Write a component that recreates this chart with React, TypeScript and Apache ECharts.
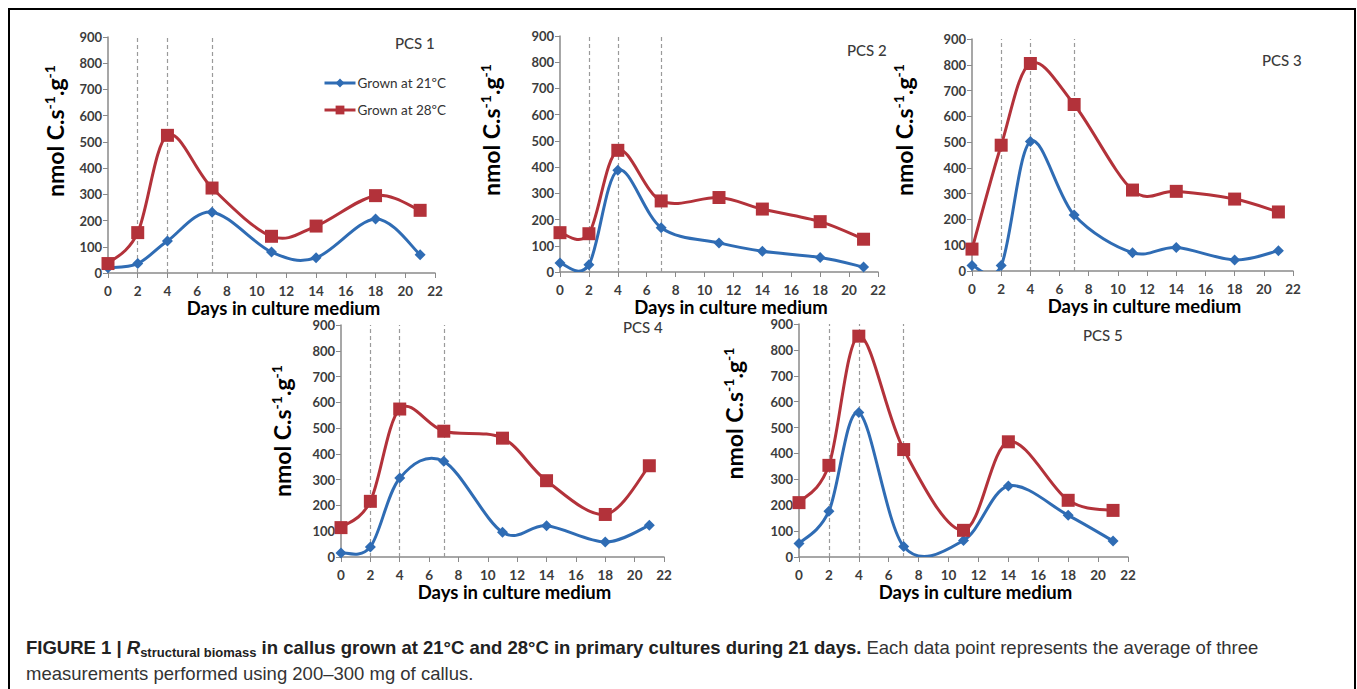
import React, { useEffect, useRef } from "react";
import * as echarts from "echarts";

const days = [0, 2, 4, 7, 11, 14, 18, 21];
const seriesNames = ["Grown at 21ºC", "Grown at 28ºC"];
const panelTitles = ["PCS 1", "PCS 2", "PCS 3", "PCS 4", "PCS 5"];
const markerDays = [2, 4, 7];
const xTicks = { min: 0, max: 22, interval: 2 };
const yTicks = { min: 0, max: 900, interval: 100 };

const pcs1_21 = [20, 36, 122, 232, 80, 58, 206, 70];
const pcs1_28 = [36, 154, 525, 324, 140, 179, 295, 239];
const pcs2_21 = [34, 28, 388, 169, 111, 79, 55, 19];
const pcs2_28 = [150, 146, 464, 271, 284, 240, 192, 125];
const pcs3_21 = [21, 21, 502, 217, 71, 91, 43, 79];
const pcs3_28 = [85, 488, 805, 646, 314, 309, 279, 229];
const pcs4_21 = [16, 39, 306, 371, 96, 121, 58, 123];
const pcs4_28 = [114, 216, 574, 488, 461, 296, 165, 354];
const pcs5_21 = [52, 177, 558, 41, 64, 274, 161, 62];
const pcs5_28 = [210, 354, 853, 415, 103, 445, 219, 180];

const panelData = [
  [pcs1_21, pcs1_28],
  [pcs2_21, pcs2_28],
  [pcs3_21, pcs3_28],
  [pcs4_21, pcs4_28],
  [pcs5_21, pcs5_28],
];

// layout (pixels)
const layout = [
  { left: 108, top: 37, width: 327, height: 236, yGap: 40, yShift: 48, tx: 395, ty: 35 },
  { left: 560, top: 36, width: 318, height: 236, yGap: 56, yShift: 48, tx: 847, ty: 42 },
  { left: 972, top: 39, width: 321, height: 232, yGap: 55, yShift: 50, tx: 1262, ty: 52 },
  { left: 341, top: 325, width: 323, height: 232, yGap: 46, yShift: 20, tx: 623, ty: 319 },
  { left: 799, top: 324, width: 329, height: 233, yGap: 52, yShift: 54, tx: 1083, ty: 327 },
];

const COLORS = ["#2f6cb4", "#b3323a"];
const FONT = "Lato, 'Open Sans', sans-serif";
const CAP_FONT = "'Liberation Sans Narrow', 'Liberation Sans', Arial, sans-serif";

// Excel-like (Catmull-Rom) smoothed segment between point k and k+1
function makeCurveRenderer(xs: number[], ys: number[], color: string) {
  const n = xs.length;
  return (params: any, api: any) => {
    const k = params.dataIndex;
    if (k >= n - 1) return null;
    const c = (j: number) => {
      const jj = Math.max(0, Math.min(n - 1, j));
      return api.coord([xs[jj], ys[jj]]);
    };
    const p0 = c(k - 1);
    const p1 = c(k);
    const p2 = c(k + 1);
    const p3 = c(k + 2);
    return {
      type: "bezierCurve",
      shape: {
        x1: p1[0],
        y1: p1[1],
        x2: p2[0],
        y2: p2[1],
        cpx1: p1[0] + (p2[0] - p0[0]) / 6,
        cpy1: p1[1] + (p2[1] - p0[1]) / 6,
        cpx2: p2[0] - (p3[0] - p1[0]) / 6,
        cpy2: p2[1] - (p3[1] - p1[1]) / 6,
      },
      style: { stroke: color, lineWidth: 3, fill: "none" },
      silent: true,
    };
  };
}

export default function App() {
  const ref = useRef<HTMLDivElement>(null);

  useEffect(() => {
    if (!ref.current) return;
    const chart = echarts.init(ref.current, undefined, { renderer: "svg" });

    const grids: any[] = [];
    const xAxes: any[] = [];
    const yAxes: any[] = [];
    const series: any[] = [];
    const graphics: any[] = [];

    layout.forEach((l, i) => {
      grids.push({ left: l.left, top: l.top, width: l.width, height: l.height });
      xAxes.push({
        gridIndex: i,
        type: "value",
        min: xTicks.min,
        max: xTicks.max,
        interval: xTicks.interval,
        name: "Days in culture medium",
        nameLocation: "middle",
        nameGap: 23,
        nameTextStyle: {
          fontFamily: FONT,
          fontWeight: "bold",
          fontSize: 18.5,
          color: "#000",
          lineHeight: 18,
          padding: [0, 0, 0, 24],
        },
        axisLine: { lineStyle: { color: "#8a8a8a", width: 1.5 } },
        axisTick: { show: true, length: 5, lineStyle: { color: "#8a8a8a" } },
        axisLabel: {
          fontFamily: FONT,
          fontWeight: "bold",
          fontSize: 13.5,
          color: "#3c3c3c",
          margin: 11,
        },
        splitLine: { show: false },
      });
      yAxes.push({
        gridIndex: i,
        type: "value",
        min: yTicks.min,
        max: yTicks.max,
        interval: yTicks.interval,
        name: "{m|nmol C.s}{s|-1}{m|.g}{s|-1}",
        nameLocation: "middle",
        nameRotate: 90,
        nameGap: l.yGap,
        nameTextStyle: {
          padding: [0, 0, 0, l.yShift],
          rich: {
            m: { fontFamily: FONT, fontWeight: "bold", fontSize: 23, color: "#000", lineHeight: 26 },
            s: { fontFamily: FONT, fontWeight: "bold", fontSize: 14, color: "#000", verticalAlign: "top", lineHeight: 15 },
          },
        },
        axisLine: { show: true, lineStyle: { color: "#8a8a8a", width: 1.5 } },
        axisTick: { show: true, length: 5, lineStyle: { color: "#8a8a8a" } },
        axisLabel: {
          fontFamily: FONT,
          fontWeight: "bold",
          fontSize: 13,
          color: "#3c3c3c",
          margin: 6,
        },
        splitLine: { show: false },
      });

      panelData[i].forEach((vals, s) => {
        const color = COLORS[s];
        const pts = days.map((d, k) => [d, vals[k]]);
        series.push({
          type: "custom",
          name: seriesNames[s] + " curve",
          xAxisIndex: i,
          yAxisIndex: i,
          data: pts,
          encode: { x: 0, y: 1 },
          renderItem: makeCurveRenderer(days, vals, color),
          clip: true,
          silent: true,
          z: 2 + s,
        });
        series.push({
          name: seriesNames[s],
          type: "line",
          xAxisIndex: i,
          yAxisIndex: i,
          data: pts,
          symbol: s === 0 ? "diamond" : "rect",
          symbolSize: s === 0 ? 11 : 13,
          showAllSymbol: true,
          lineStyle: { color, width: 0, opacity: 0 },
          itemStyle: { color },
          z: 5 + s,
          markLine:
            s === 0
              ? {
                  silent: true,
                  symbol: "none",
                  label: { show: false },
                  lineStyle: { color: "#9a9a9a", type: [4, 3], width: 1.2 },
                  data: markerDays.map((d) => ({ xAxis: d })),
                }
              : undefined,
        });
      });

      graphics.push({
        type: "text",
        left: l.tx,
        top: l.ty,
        style: {
          text: panelTitles[i],
          fontFamily: FONT,
          fontSize: 15,
          fontWeight: 500,
          fill: "#3a3a3a",
        },
      });
    });

    graphics.push({
      type: "rect",
      shape: { x: 9, y: 9, width: 1346, height: 720 },
      style: { fill: "none", stroke: "#000", lineWidth: 2 },
      silent: true,
    });
    graphics.push({
      type: "text",
      left: 26,
      top: 638,
      style: {
        text:
          "{b|FIGURE 1 | }{bi|R}{sub|structural biomass}{b| in callus grown at 21°C and 28°C in primary cultures during 21 days.}{n| Each data point represents the average of three}",
        rich: {
          b: { fontFamily: CAP_FONT, fontWeight: "bold", fontSize: 18.5, fill: "#222", lineHeight: 23 },
          bi: { fontFamily: CAP_FONT, fontWeight: "bold", fontStyle: "italic", fontSize: 18.5, fill: "#222", lineHeight: 23 },
          sub: { fontFamily: CAP_FONT, fontWeight: "bold", fontSize: 13, fill: "#222", lineHeight: 12, verticalAlign: "bottom" },
          n: { fontFamily: CAP_FONT, fontSize: 18.5, fill: "#333", lineHeight: 23 },
        },
      },
    });
    graphics.push({
      type: "text",
      left: 26,
      top: 664,
      style: {
        text: "measurements performed using 200–300 mg of callus.",
        fontFamily: CAP_FONT,
        fontSize: 18.5,
        fill: "#333",
      },
    });

    chart.setOption({
      animation: false,
      backgroundColor: "#fff",
      grid: grids,
      xAxis: xAxes,
      yAxis: yAxes,
      series,
      legend: {
        left: 318,
        top: 71,
        orient: "vertical",
        itemWidth: 31,
        itemHeight: 11,
        itemGap: 13,
        data: seriesNames.map((name, s) => ({
          name,
          lineStyle: { color: COLORS[s], width: 3, opacity: 1 },
        })),
        textStyle: { fontFamily: FONT, fontSize: 13.5, color: "#333", padding: [0, 0, 0, -3] },
        selectedMode: false,
      },
      graphic: graphics,
    });

    return () => chart.dispose();
  }, []);

  return (
    <div
      ref={ref}
      style={{ position: "fixed", left: 0, top: 0, width: 1357, height: 689, background: "#fff" }}
    />
  );
}
